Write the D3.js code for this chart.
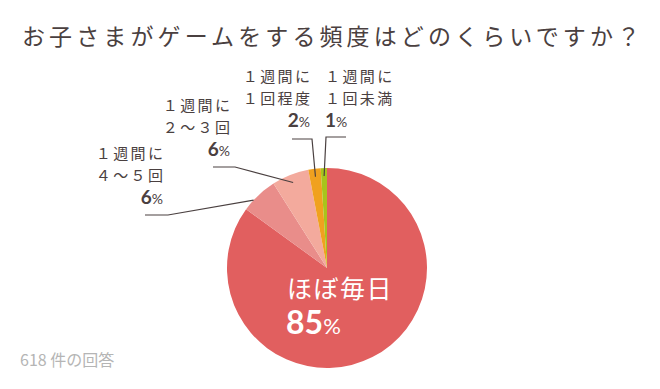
<!DOCTYPE html>
<html>
<head>
<meta charset="utf-8">
<script src="https://cdn.jsdelivr.net/npm/d3@7"></script>
<style>
  body { margin: 0; background: #fff; }
  svg { display: block; font-family: "Noto Sans CJK JP", "Noto Sans", sans-serif; }
</style>
</head>
<body>
<div id="chart"></div>
<script>
// 子どものゲーム頻度 - 円グラフ
const categories = ['ほぼ毎日', '１週間に\n４～５回', '１週間に\n２～３回', '１週間に\n１回程度', '１週間に\n１回未満'];
const values = [85, 6, 6, 2, 1];
const colors = ['#e15f5f', '#e98d8a', '#f3aa9d', '#f0a11f', '#a8c41c'];
const title = 'お子さまがゲームをする頻度はどのくらいですか？';
const note = '618 件の回答';

const w = 660, h = 389;
const cx = 327, cy = 268, r = 100;
const ink = '#4a4040';
const numFont = 'Lato, "Noto Sans", sans-serif';

const svg = d3.select('#chart').append('svg')
    .attr('width', w)
    .attr('height', h);

svg.append('text')
    .attr('x', 22)
    .attr('y', 37)
    .attr('dy', '0.36em')
    .attr('font-size', 23)
    .attr('fill', ink)
    .attr('textLength', 618)
    .attr('lengthAdjust', 'spacing')
    .text(title);

const pie = d3.pie().sort(null).value(d => d);
const arcs = pie(values);
const arc = d3.arc().innerRadius(0).outerRadius(r);

const g = svg.append('g').attr('transform', `translate(${cx},${cy})`);

g.selectAll('path')
    .data(arcs)
    .join('path')
    .attr('d', arc)
    .attr('fill', (d, i) => colors[i]);

// outside labels: text x, anchor, first row center, leader elbow, anchor radius
const outside = [
    null,
    { x: 163, anchor: 'end', y: 154, line: [145, 215, 168], rr: 100, da: -4 },
    { x: 230, anchor: 'end', y: 106, line: [213, 167, 235], rr: 92, da: 0 },
    { x: 310, anchor: 'end', y: 77, line: [292, 139, 312], rr: 92, da: 0 },
    { x: 325, anchor: 'start', y: 77, line: [346, 137, 326], rr: 92, da: 0 }
];
const ls = 2.4;

arcs.forEach((a, i) => {
    const o = outside[i];
    if (!o) return;
    const ang = (a.startAngle + a.endAngle) / 2 + o.da * Math.PI / 180;
    const px = cx + o.rr * Math.sin(ang);
    const py = cy - o.rr * Math.cos(ang);
    svg.append('polyline')
        .attr('points', [[o.line[0], o.line[1]], [o.line[2], o.line[1]], [px, py]].join(' '))
        .attr('fill', 'none')
        .attr('stroke', ink)
        .attr('stroke-width', 1.2);

    const lines = categories[i].split('\n');
    const t = svg.append('g').attr('fill', ink).attr('text-anchor', o.anchor);
    lines.forEach((ln, k) => {
        t.append('text')
            .attr('x', o.anchor === 'end' ? o.x + ls : o.x)
            .attr('y', o.y + k * 21.8)
            .attr('dy', '0.36em')
            .attr('font-size', 15)
            .attr('letter-spacing', ls)
            .text(ln);
    });
    const p = t.append('text')
        .attr('x', o.x)
        .attr('y', o.y + 2 * 21.8 + 1)
        .attr('dy', '0.36em')
        .attr('font-family', numFont)
        .attr('font-weight', 'bold');
    p.append('tspan').attr('font-size', 19).text(values[i]);
    p.append('tspan').attr('font-size', 14).attr('font-weight', 'normal').text('%');
});

// inside label
svg.append('text')
    .attr('x', 287)
    .attr('y', 289)
    .attr('dy', '0.36em')
    .attr('font-size', 25)
    .attr('fill', '#fff')
    .attr('letter-spacing', 1.5)
    .text(categories[0]);

const big = svg.append('text')
    .attr('x', 286)
    .attr('y', 328)
    .attr('dy', '0.36em')
    .attr('fill', '#fff')
    .attr('font-family', numFont)
    .attr('font-weight', 'bold');
big.append('tspan').attr('font-size', 32).text(values[0]);
big.append('tspan').attr('font-size', 22).attr('font-weight', 'normal').text('%');

svg.append('text')
    .attr('x', 20)
    .attr('y', 360)
    .attr('dy', '0.36em')
    .attr('font-size', 16)
    .attr('fill', '#b5b5b5')
    .text(note);
</script>
</body>
</html>
